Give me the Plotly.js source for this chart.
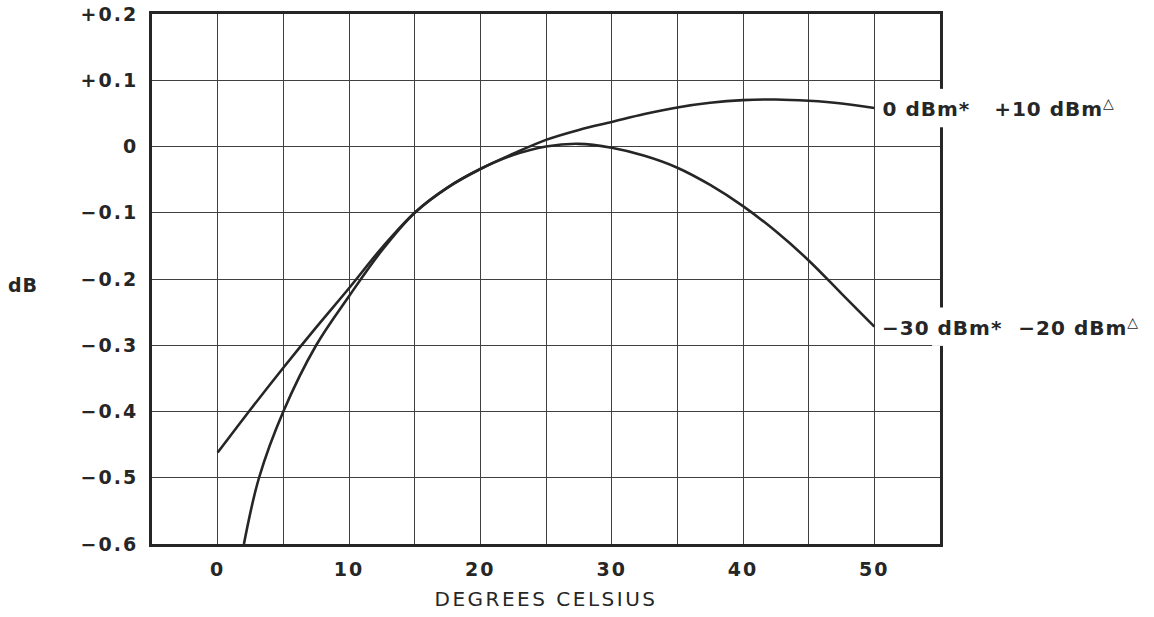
<!DOCTYPE html>
<html>
<head>
<meta charset="utf-8">
<script src="https://cdn.plot.ly/plotly-3.0.1.min.js"></script>
<style>
  html, body { margin: 0; padding: 0; background: #ffffff; }
  #chart { width: 1154px; height: 617px; }
  #chart .xtick text, #chart .ytick text { letter-spacing: 2px; }
  #chart .g-xtitle text { letter-spacing: 2.5px; }
  #chart .annotation-text { letter-spacing: 1px; }
</style>
</head>
<body>
<div id="chart"></div>
<script>
// ---- data ----
const tempHigh = [0, 2.5, 5, 7.5, 10, 12.5, 15, 17.5, 20, 22.5, 25, 27.5, 30, 32.5, 35, 37.5, 40, 42.5, 45, 47.5, 50];
const dbHigh   = [-0.462, -0.397, -0.334, -0.273, -0.214, -0.153, -0.1, -0.062, -0.034, -0.011, 0.01, 0.025, 0.037, 0.049, 0.059, 0.066, 0.07, 0.071, 0.069, 0.065, 0.058];

const tempLow = [2, 3.15, 5, 7.5, 10, 12.5, 15, 17.5, 20, 22.5, 25, 27.5, 30, 32.5, 35, 37.5, 40, 42.5, 45, 47.5, 50];
const dbLow   = [-0.6, -0.5, -0.4, -0.3, -0.226, -0.157, -0.1, -0.062, -0.034, -0.013, 0.0, 0.004, -0.002, -0.014, -0.032, -0.058, -0.09, -0.128, -0.172, -0.222, -0.272];

const labelHigh = "0 dBm*\u00a0\u00a0\u00a0+10 dBm<sup>\u25B3</sup>";
const labelLow  = "\u221230 dBm*\u00a0\u00a0\u221220 dBm<sup>\u25B3</sup>";

const xTickVals = [0, 10, 20, 30, 40, 50];
const xTickText = ["0", "10", "20", "30", "40", "50"];
const yTickVals = [-0.6, -0.5, -0.4, -0.3, -0.2, -0.1, 0, 0.1, 0.2];
const yTickText = ["\u22120.6", "\u22120.5", "\u22120.4", "\u22120.3", "\u22120.2", "\u22120.1", "0", "+0.1", "+0.2"];

const xTitle = "DEGREES CELSIUS";
const yTitle = "dB";

// ---- styling ----
const INK = "#262626";
const GRID = "#404040";
const FONT = "DejaVu Sans, sans-serif";

const lineStyle = { color: INK, width: 2.6, shape: "spline", smoothing: 1 };

const traces = [
  { x: tempHigh, y: dbHigh, mode: "lines", line: lineStyle, hoverinfo: "skip", showlegend: false },
  { x: tempLow,  y: dbLow,  mode: "lines", line: lineStyle, hoverinfo: "skip", showlegend: false }
];

const endHigh = dbHigh[dbHigh.length - 1];
const endLow = dbLow[dbLow.length - 1];
const gapHalf = 0.029;

const layout = {
  width: 1154,
  height: 617,
  margin: { l: 152, r: 214, t: 14, b: 73 },
  paper_bgcolor: "#ffffff",
  plot_bgcolor: "#ffffff",
  font: { family: FONT, color: INK, size: 19, weight: "bold" },
  xaxis: {
    range: [-5, 55],
    tickmode: "array",
    tickvals: xTickVals,
    ticktext: xTickText,
    ticks: "",
    ticklabelstandoff: 6,
    tickfont: { family: FONT, size: 19, color: INK, weight: "bold" },
    showgrid: true,
    gridcolor: GRID,
    gridwidth: 1,
    minor: { dtick: 5, tick0: 0, showgrid: true, gridcolor: GRID, gridwidth: 1, ticks: "" },
    zeroline: false,
    showline: true,
    mirror: true,
    linecolor: INK,
    linewidth: 3,
    title: { text: xTitle, font: { family: FONT, size: 20, color: INK, weight: "normal" }, standoff: 14 },
    automargin: false,
    fixedrange: true
  },
  yaxis: {
    range: [-0.6, 0.2],
    tickmode: "array",
    tickvals: yTickVals,
    ticktext: yTickText,
    ticks: "",
    ticklabelstandoff: 7,
    tickfont: { family: FONT, size: 19, color: INK, weight: "bold" },
    showgrid: true,
    gridcolor: GRID,
    gridwidth: 1,
    zeroline: false,
    showline: true,
    mirror: true,
    linecolor: INK,
    linewidth: 3,
    automargin: false,
    fixedrange: true
  },
  shapes: [
    { type: "rect", layer: "above", xref: "paper", yref: "y", x0: 0.99, x1: 1.012,
      y0: endHigh - gapHalf, y1: endHigh + gapHalf, fillcolor: "#ffffff", line: { width: 0 } },
    { type: "rect", layer: "above", xref: "paper", yref: "y", x0: 0.99, x1: 1.012,
      y0: endLow - gapHalf, y1: endLow + gapHalf, fillcolor: "#ffffff", line: { width: 0 } }
  ],
  annotations: [
    { x: tempHigh[tempHigh.length - 1], y: endHigh, xref: "x", yref: "y", text: labelHigh,
      showarrow: false, xanchor: "left", yanchor: "middle", xshift: 15,
      font: { family: FONT, size: 20, color: INK, weight: "bold" } },
    { x: tempLow[tempLow.length - 1], y: endLow, xref: "x", yref: "y", text: labelLow,
      showarrow: false, xanchor: "left", yanchor: "middle", xshift: 15,
      font: { family: FONT, size: 20, color: INK, weight: "bold" } },
    { x: -0.164, y: -0.2, xref: "paper", yref: "y", text: yTitle, showarrow: false,
      xanchor: "center", yanchor: "middle", yshift: -6,
      font: { family: FONT, size: 19, color: INK, weight: "bold" } }
  ]
};

Plotly.newPlot("chart", traces, layout, { displayModeBar: false, staticPlot: true });
</script>
</body>
</html>
